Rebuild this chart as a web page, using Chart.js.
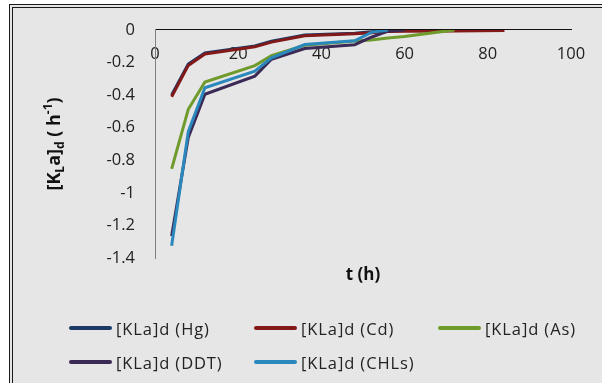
<!DOCTYPE html>
<html>
<head>
<meta charset="utf-8">
<script src="https://cdn.jsdelivr.net/npm/chart.js@4"></script>
<style>
  html, body { margin: 0; padding: 0; background: #fff; overflow: hidden; }
  #wrap { position: relative; width: 602px; height: 383px; }
  #frame {
    position: absolute; left: 9px; top: 4px; width: 640px; height: 420px;
    border: 4px double #1a1a1a; background: #e6e6e6;
  }
  #chart { position: absolute; left: 0; top: 0; }
  .leg { position: absolute; display: flex; align-items: center;
    font: 16.5px "Open Sans", sans-serif; letter-spacing: 0.9px; color: #222; white-space: nowrap; }
  .leg span.ln { display: inline-block; width: 43px; height: 4px; border-radius: 2px; margin-right: 4px; }
</style>
</head>
<body>
<div id="wrap">
  <div id="frame"></div>
  <canvas id="chart" width="602" height="383"></canvas>
  <div id="legend"></div>
</div>
<script>
const times = [4, 8, 12, 24, 28, 36, 48, 52, 56, 60, 72, 84];
const hg   = [-0.40, -0.21, -0.142, -0.098, -0.07, -0.032, -0.02, -0.012, -0.004, 0, null, null];
const cd   = [-0.41, -0.218, -0.148, -0.104, -0.075, -0.036, -0.024, -0.018, -0.01, -0.008, -0.007, -0.004];
const as   = [-0.853, -0.487, -0.32, -0.219, -0.158, -0.094, -0.068, -0.062, -0.05, -0.04, 0, null];
const ddt  = [-1.265, -0.66, -0.395, -0.284, -0.18, -0.114, -0.091, -0.045, -0.008, 0, null, null];
const chls = [-1.325, -0.625, -0.355, -0.254, -0.172, -0.09, -0.067, -0.015, 0, null, null, null];

const seriesNames = ['[KLa]d (Hg)', '[KLa]d (Cd)', '[KLa]d (As)', '[KLa]d (DDT)', '[KLa]d (CHLs)'];
const seriesValues = [hg, cd, as, ddt, chls];
const colors = ['#1b3a66', '#821818', '#6f9a2c', '#3a2a55', '#2a88bd'];

const xTicks = [0, 20, 40, 60, 80, 100];
const yTicks = [0, -0.2, -0.4, -0.6, -0.8, -1, -1.2, -1.4];

function points(vals) {
  const out = [];
  vals.forEach((v, i) => { if (v !== null) out.push({ x: times[i], y: v }); });
  return out;
}

const datasets = seriesValues.map((vals, i) => ({
  label: seriesNames[i],
  data: points(vals),
  borderColor: colors[i],
  backgroundColor: colors[i],
  borderWidth: 3,
  pointRadius: 0,
  showLine: true,
  tension: 0,
  order: 5 - i
}));

// axis titles with sub/superscripts
const titles = {
  id: 'titles',
  afterDraw(chart) {
    const { ctx, chartArea } = chart;
    ctx.save();
    ctx.fillStyle = '#111';
    // y title
    const parts = [
      ['[K', 0], ['L', 1], ['a]', 0], ['d', 1], [' ( h', 0], ['-1', -1], [')', 0]
    ];
    const big = 'bold 18px "Open Sans", sans-serif';
    const small = 'bold 12px "Open Sans", sans-serif';
    let total = 0;
    parts.forEach(p => { ctx.font = p[1] ? small : big; total += ctx.measureText(p[0]).width; });
    ctx.translate(chartArea.left - 100, (chartArea.top + chartArea.bottom) / 2);
    ctx.rotate(-Math.PI / 2);
    ctx.textBaseline = 'middle';
    let x = -total / 2;
    parts.forEach(p => {
      ctx.font = p[1] ? small : big;
      const dy = p[1] === 1 ? 6 : p[1] === -1 ? -6 : 0;
      ctx.fillText(p[0], x, dy);
      x += ctx.measureText(p[0]).width;
    });
    ctx.restore();
    ctx.save();
    ctx.fillStyle = '#111';
    ctx.font = 'bold 17px "Open Sans", sans-serif';
    ctx.textAlign = 'center';
    ctx.textBaseline = 'middle';
    ctx.fillText('t (h)', (chartArea.left + chartArea.right) / 2, chartArea.bottom + 17);
    ctx.restore();
  }
};

new Chart(document.getElementById('chart'), {
  type: 'scatter',
  data: { datasets },
  options: {
    responsive: false,
    animation: false,
    layout: { padding: { left: 95, top: 28, right: 31, bottom: 125 } },
    plugins: { legend: { display: false }, tooltip: { enabled: false } },
    scales: {
      x: {
        type: 'linear',
        position: { y: 0 },
        min: 0, max: 100,
        afterBuildTicks: s => { s.ticks = xTicks.map(v => ({ value: v })); },
        grid: { display: false, drawTicks: false },
        border: { display: true, color: '#111', width: 1 },
        ticks: { padding: 14, color: '#222', font: { family: 'Open Sans', size: 16.5 } }
      },
      y: {
        type: 'linear',
        min: -1.4, max: 0,
        afterBuildTicks: s => { s.ticks = yTicks.map(v => ({ value: v })); },
        afterFit: s => { s.width = 60; },
        grid: { display: false, drawTicks: false },
        border: { display: true, color: '#808080', width: 1 },
        ticks: {
          padding: 20, color: '#222', font: { family: 'Open Sans', size: 16.5 },
          callback: v => String(+Number(v).toFixed(1))
        }
      }
    }
  },
  plugins: [titles]
});

// legend
const legPos = [[69, 328], [254, 328], [438, 328], [69, 362], [254, 362]];
const legend = document.getElementById('legend');
seriesNames.forEach((name, i) => {
  const d = document.createElement('div');
  d.className = 'leg';
  d.style.left = legPos[i][0] + 'px';
  d.style.top = (legPos[i][1] - 12) + 'px';
  d.style.height = '24px';
  d.innerHTML = '<span class="ln" style="background:' + colors[i] + '"></span>' + name;
  legend.appendChild(d);
});
</script>
</body>
</html>
